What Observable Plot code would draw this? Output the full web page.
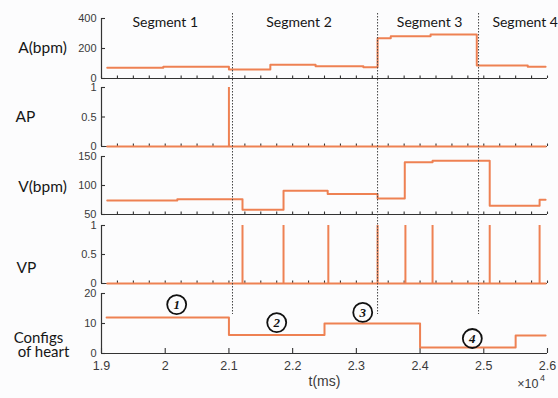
<!DOCTYPE html>
<html><head><meta charset="utf-8">
<script src="https://cdn.jsdelivr.net/npm/d3@7"></script>
<script src="https://cdn.jsdelivr.net/npm/@observablehq/plot@0.6"></script>
<style>
html,body{margin:0;padding:0;background:#fcfcfd;}
#chart{position:relative;width:558px;height:398px;overflow:hidden;background:#fcfcfd;}
#chart svg{position:absolute;left:0;}
</style></head><body><div id="chart"></div>
<script>
// ---- data ----
const xDomain = [19000, 26000];
const xMajorTicks = [19000, 20000, 21000, 22000, 23000, 24000, 25000, 26000];
const xMinorTicks = d3.range(19000, 26001, 250);

const segmentNames = ["Segment 1", "Segment 2", "Segment 3", "Segment 4"];
const segmentLabelT = [20000, 22100, 24150, 25650];
const segmentBounds = [21056, 23333, 24918];

const aT = [19090, 19970, 21000, 21650, 22360, 23110, 23333, 23540, 24165, 24890, 25690, 25970];
const aV = [71, 78, 60, 92, 82, 75, 269, 282, 293, 87, 78, 78];

const apPulseT = [21000];
const vpPulseT = [21213, 21857, 22560, 23333, 23770, 24196, 25093, 25876];
const pulseStart = 19090, pulseEnd = 25970;

const vT = [19090, 20190, 21213, 21857, 22550, 23333, 23760, 24196, 25093, 25876, 25970];
const vV = [74, 76.5, 58, 91, 85.5, 77.5, 140, 142.5, 65, 75.5, 75.5];

const cT = [19080, 21000, 22500, 24000, 25500, 25970];
const cV = [12, 6.2, 10, 2, 6, 6];

const cfgNames = ["1", "2", "3", "4"];
const cfgLabelT = [20180, 21750, 23100, 24820];
const cfgLabelV = [16.3, 10.3, 13.7, 5];

const panelNames = [["A(bpm)"], ["AP"], ["V(bpm)"], ["VP"], ["Configs", "of heart"]];
const yDomains = [[0, 400], [0, 1], [50, 150], [0, 1], [0, 20]];
const yTicks = [[0, 200, 400], [0, 0.5, 1], [50, 100, 150], [0, 0.5, 1], [0, 10, 20]];

// ---- layout ----
const W = 558, H = 398, L = 101, R = 11;
const frameW = W - L - R;
const ORANGE = "#ee8153";
const AX = "#333";
const chart = document.getElementById("chart");
const panelPx = [[18, 78], [87, 146], [156, 214], [225, 283], [293, 353]];
// [centre x, vertical offset] for each line of the panel name
const labelPos = [[[42, 0]], [[25, 0]], [[42, 2]], [[26, 14]], [[38, 15], [43, 29]]];

const steps = (T, V) => T.map((t, i) => ({t, v: V[i]}));

function seriesMarks(i) {
  const line = (T, V) => Plot.line(steps(T, V), {x: "t", y: "v", curve: "step-after", stroke: ORANGE, strokeWidth: 2});
  const pulses = (P) => [
    Plot.line([{t: pulseStart, v: 0}, {t: pulseEnd, v: 0}], {x: "t", y: "v", stroke: ORANGE, strokeWidth: 2}),
    Plot.ruleX(P, {x: d => d, y1: 0, y2: 1, stroke: ORANGE, strokeWidth: 2})
  ];
  if (i === 0) return [line(aT, aV)];
  if (i === 1) return pulses(apPulseT);
  if (i === 2) return [line(vT, vV)];
  if (i === 3) return pulses(vpPulseT);
  const cfg = cfgNames.map((n, k) => ({n, t: cfgLabelT[k], v: cfgLabelV[k]}));
  return [
    line(cT, cV),
    Plot.dot(cfg, {x: "t", y: "v", r: 9.5, stroke: "#111", strokeWidth: 1.8, fill: "none"}),
    Plot.text(cfg, {x: "t", y: "v", text: "n", fontFamily: "Liberation Serif, serif", fontStyle: "italic", fontWeight: "bold", fontSize: 13, fill: "#111"})
  ];
}

panelPx.forEach(([yTop, yBot], i) => {
  const last = i === panelPx.length - 1;
  const mTop = 12, mBottom = last ? H - yBot : 12;
  const svgTop = yTop - mTop;
  const height = yBot - yTop + mTop + mBottom;
  const frameH = yBot - yTop;
  const marks = [
    Plot.ruleX([xDomain[0]], {stroke: AX, strokeWidth: 1.2}),
    Plot.ruleY([yDomains[i][0]], {stroke: AX, strokeWidth: 1.2}),
    Plot.tickY(yTicks[i], {y: d => d, insetRight: frameW - 4, stroke: AX, strokeWidth: 1.1}),
    Plot.axisY(yTicks[i], {tickSize: 0, tickPadding: 5, label: null, tickFormat: d => String(d), fontSize: 11, fill: "#3a3a3a"}),
    Plot.tickX(last ? xMajorTicks : xMinorTicks, {x: d => d, insetTop: frameH - (last ? 5 : 2.5), stroke: AX, strokeWidth: 1.1}),
    ...seriesMarks(i),
    ...panelNames[i].map((name, k) => Plot.text([name], {text: d => d, frameAnchor: "left", textAnchor: "middle",
      dx: labelPos[i][k][0] - L, dy: labelPos[i][k][1],
      fontFamily: "Lato, 'Open Sans', sans-serif", fontSize: last ? 15 : 15.5, fill: "#161616"}))
  ];
  if (last) {
    marks.push(
      Plot.axisX(xMajorTicks, {tickSize: 0, tickPadding: 8, tickFormat: d => String(d / 10000), label: null, fontSize: 12.5, fill: "#3a3a3a"}),
      Plot.text(["t(ms)"], {text: d => d, frameAnchor: "bottom", dy: 32, fontSize: 14, fill: "#3a3a3a"}),
      Plot.text(["\u00d710"], {text: d => d, frameAnchor: "bottom-right", dx: -9, dy: 34, textAnchor: "end", fontSize: 12.5, fill: "#3a3a3a"}),
      Plot.text(["4"], {text: d => d, frameAnchor: "bottom-right", textAnchor: "middle", dx: -5, dy: 27, fontSize: 9, fill: "#3a3a3a"})
    );
  }
  const p = Plot.plot({
    width: W, height, marginLeft: L, marginRight: R, marginTop: mTop, marginBottom: mBottom,
    style: {background: "transparent", overflow: "visible", fontFamily: "'Liberation Sans', Arial, sans-serif", color: "#3a3a3a"},
    x: {domain: xDomain, axis: null},
    y: {domain: yDomains[i], axis: null},
    marks
  });
  p.style.top = svgTop + "px";
  chart.appendChild(p);
});

// overlay: segment boundaries and labels
const overlay = Plot.plot({
  width: W, height: H, marginLeft: L, marginRight: R, marginTop: 13, marginBottom: H - 314,
  style: {background: "transparent", overflow: "visible", fontFamily: "Lato, 'Open Sans', sans-serif"},
  x: {domain: xDomain, axis: null},
  marks: [
    Plot.ruleX(segmentBounds, {x: d => d, stroke: "#444", strokeWidth: 1, strokeDasharray: "1.5,1.5"}),
    Plot.text(segmentNames.map((n, k) => ({n, t: segmentLabelT[k]})), {x: "t", text: "n", frameAnchor: "top", dy: 4, fontSize: 14, fill: "#161616"})
  ]
});
overlay.style.top = "0px";
chart.appendChild(overlay);
</script>
</body></html>
